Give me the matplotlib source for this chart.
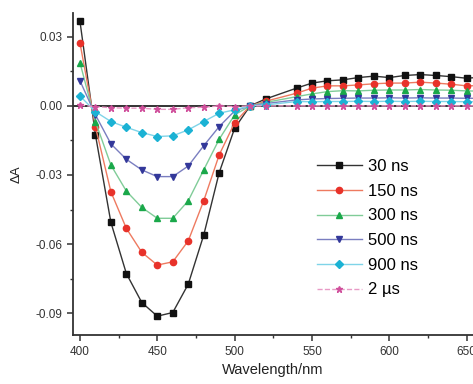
import matplotlib
matplotlib.use("Agg")
import matplotlib.pyplot as plt
from matplotlib.ticker import MultipleLocator, FormatStrFormatter

plt.rcParams['font.family'] = ['Liberation Sans', 'DejaVu Sans']

# transient absorption spectra, 530 nm point dropped (laser line)
wl = [400, 410, 420, 430, 440, 450, 460, 470, 480, 490, 500, 510, 520,
      540, 550, 560, 570, 580, 590, 600, 610, 620, 630, 640, 650, 660]

ns30 = [0.0367, -0.0126, -0.0506, -0.0728, -0.0854, -0.0913, -0.0897, -0.0774, -0.0561,
        -0.0290, -0.0097, 0.0000, 0.0030, 0.0077, 0.0099, 0.0109, 0.0113, 0.0123, 0.0129,
        0.0123, 0.0132, 0.0136, 0.0132, 0.0127, 0.0120, 0.0125]
ns150 = [0.0273, -0.0090, -0.0373, -0.0532, -0.0636, -0.0691, -0.0677, -0.0586, -0.0412,
         -0.0213, -0.0073, 0.0000, 0.0020, 0.0055, 0.0077, 0.0087, 0.0087, 0.0091, 0.0096,
         0.0099, 0.0099, 0.0103, 0.0099, 0.0094, 0.0087, 0.0088]
ns300 = [0.0188, -0.0068, -0.0257, -0.0370, -0.0441, -0.0488, -0.0488, -0.0412, -0.0278,
         -0.0145, -0.0039, 0.0000, 0.0015, 0.0040, 0.0052, 0.0062, 0.0066, 0.0065, 0.0068,
         0.0069, 0.0069, 0.0071, 0.0069, 0.0068, 0.0065, 0.0064]
ns500 = [0.0109, -0.0039, -0.0165, -0.0232, -0.0278, -0.0307, -0.0307, -0.0261, -0.0173,
         -0.0090, -0.0022, 0.0000, 0.0010, 0.0026, 0.0030, 0.0032, 0.0033, 0.0034, 0.0034,
         0.0035, 0.0034, 0.0035, 0.0034, 0.0034, 0.0033, 0.0033]
ns900 = [0.0043, -0.0025, -0.0068, -0.0093, -0.0116, -0.0133, -0.0130, -0.0104, -0.0068,
         -0.0032, -0.0017, 0.0000, 0.0004, 0.0019, 0.0018, 0.0019, 0.0019, 0.0020, 0.0019,
         0.0020, 0.0019, 0.0020, 0.0019, 0.0019, 0.0018, 0.0018]
us2 = [0.0003, -0.0003, -0.0008, -0.0010, -0.0010, -0.0015, -0.0015, -0.0008, -0.0006,
       0.0000, -0.0003, 0.0000, 0.0000, 0.0000, 0.0000, 0.0000, 0.0000, 0.0000, 0.0000,
       0.0000, 0.0000, 0.0000, 0.0000, 0.0000, 0.0000, 0.0000]

labels = ['30 ns', '150 ns', '300 ns', '500 ns', '900 ns', '2 \u00b5s']

fig = plt.figure(figsize=(4.73, 3.84), dpi=100)
ax = fig.add_axes([0.1537, 0.1268, 0.8463, 0.8392])

ax.axhline(0, color='#333333', lw=1.4, zorder=1)

series = [
    (ns30, 's', '#111111', '#333333', '-'),
    (ns150, 'o', '#e8322a', '#ee7a60', '-'),
    (ns300, '^', '#1aa84a', '#80cc98', '-'),
    (ns500, 'v', '#33389a', '#7a7ec0', '-'),
    (ns900, 'D', '#1bb2d4', '#7fd4e8', '-'),
    (us2, '*', '#d0509c', '#e89ac6', '--'),
]
for (vals, mk, mc, lc, ls), lab in zip(series, labels):
    ms = 5 if mk == '*' else (4 if mk == 'D' else 4.5)
    ax.plot(wl, vals, color=lc, ls=ls, lw=1.0, marker=mk, ms=ms,
            mfc=mc, mec=mc, label=lab, zorder=3)

ax.set_xlim(395.3, 654.1)
ax.set_ylim(-0.0996, 0.0403)
ax.xaxis.set_major_locator(MultipleLocator(50))
ax.xaxis.set_minor_locator(MultipleLocator(25))
ax.yaxis.set_major_locator(MultipleLocator(0.03))
ax.yaxis.set_minor_locator(MultipleLocator(0.015))
ax.yaxis.set_major_formatter(FormatStrFormatter('%.2f'))

for s in ['top', 'right']:
    ax.spines[s].set_visible(False)
for s in ['left', 'bottom']:
    ax.spines[s].set_color('#333333')
    ax.spines[s].set_linewidth(1.3)

ax.tick_params(which='major', direction='out', length=4, width=1.1,
               labelsize=8.5, colors='#333333')
ax.tick_params(which='minor', direction='out', length=2.5, width=1.0, colors='#333333')

ax.set_xlabel('Wavelength/nm', fontsize=10.5, color='#222222', labelpad=4)
ax.set_ylabel('\u0394A', fontsize=9.5, color='#222222', labelpad=9)

leg = ax.legend(loc='upper left', bbox_to_anchor=(0.61, 0.547), frameon=False,
                fontsize=12, handlelength=2.7, handletextpad=0.36,
                labelspacing=0.58, borderaxespad=0, borderpad=0)

fig.savefig('out.png', dpi=100)
